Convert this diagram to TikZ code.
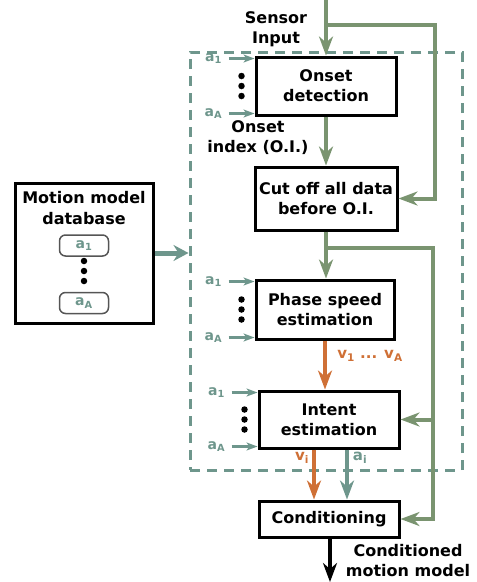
\documentclass[tikz,border=0pt]{standalone}
\usepackage{fontspec}
\setmainfont{DejaVu Sans}
\usetikzlibrary{arrows.meta,positioning,calc}
\definecolor{mGreen} {HTML}{7A9470}
\definecolor{mTeal}  {HTML}{6E968C}
\definecolor{mOrange}{HTML}{CF7036}
\definecolor{mSlot}  {HTML}{555555}

\begin{document}
\begin{tikzpicture}[
  x=1pt, y=-1pt, font=\bfseries\fontsize{16}{20}\selectfont,
  box/.style={draw=black, line width=3pt, align=center, inner sep=1pt},
  sm/.style={font=\bfseries\fontsize{14}{16}\selectfont, inner sep=1pt},
  md/.style={font=\bfseries\fontsize{15}{17}\selectfont, inner sep=1pt},
  slot/.style={draw=mSlot, line width=1.5pt, rounded corners=6pt, minimum width=49pt,
               minimum height=21pt, text=mTeal, sm},
  dot/.style={circle, fill=black, inner sep=0pt, minimum size=6.5pt},
  gar/.style={-{Stealth[length=19pt,width=14pt,inset=6pt]}, draw=mGreen, line width=4pt},
  oar/.style={gar, draw=mOrange},
  kar/.style={gar, draw=black},
  tar/.style={-{Stealth[length=11pt,width=8pt,inset=3pt]}, draw=mTeal, line width=2.5pt},
  dar/.style={-{Stealth[length=15pt,width=16pt,inset=5pt]}, draw=mTeal, line width=5pt},
]
\useasboundingbox (0,0) rectangle (477,582);

% ---------------------------------------------------------------- rahmen
\node[draw=mTeal, line width=3pt, dash pattern=on 10pt off 7pt, minimum width=272pt,
      minimum height=418pt, inner sep=0pt] (frame) at (326,261) {};

% ---------------------------------------------------------------- blocks
\node[box, minimum width=140pt, minimum height=58pt] (od) at (326,86) {Onset\\detection};
\node[box, minimum width=142pt, minimum height=63pt] (cut) at (326,198.5) {Cut off all data\\before O.I.};
\node[box, minimum width=138pt, minimum height=59pt] (ph) at (325,309.5) {Phase speed\\estimation};
\node[box, minimum width=140pt, minimum height=57pt] (ie) at (329,419.5) {Intent\\estimation};
\node[box, minimum width=140pt, minimum height=36pt] (cond) at (329,519) {Conditioning};

% ---------------------------------------------------------------- database
\node[box, minimum width=138pt, minimum height=140pt] (db) at (84,253) {};
\node[anchor=north, align=center, inner sep=0pt, font=\bfseries\fontsize{16}{21}\selectfont]
  (dbt) at ([yshift=-10pt]db.north) {Motion model\\database};
\node[slot] (s1) at (84,245.5) {a\textsubscript{1}};
\node[slot] (sA) at (84,303) {a\textsubscript{A}};
\foreach \y in {261,271,281}
  \node[dot] (db-d\y) at (84,\y) {};

% ---------------------------------------------------------------- texte
\node[align=center] (sens) at (276,29) {Sensor\\Input};
\node[align=center] (oi) at (258,138) {Onset\\index (O.I.)};
\node[md, text=mOrange] (vv) at (370,356) {v\textsubscript{1} ... v\textsubscript{A}};
\node[md, text=mOrange] (vi) at (302,458) {v\textsubscript{i}};
\node[md, text=mTeal] (ai) at (360,458) {a\textsubscript{i}};
\node[align=center] (outl) at (408,561) {Conditioned\\motion model};

% ---------------------------------------------------------------- inputs a_1 ... a_A
\foreach \b in {od,ph,ie} {
  \draw[tar] ([xshift=-26pt,yshift=-3pt]\b.north west) -- ([yshift=-3pt]\b.north west);
  \draw[tar] ([xshift=-26pt,yshift=3pt]\b.south west) -- ([yshift=3pt]\b.south west);
  \node[sm, text=mTeal] (\b-a1) at ([xshift=-41pt,yshift=-3pt]\b.north west) {a\textsubscript{1}};
  \node[sm, text=mTeal] (\b-aA) at ([xshift=-41pt,yshift=3pt]\b.south west) {a\textsubscript{A}};
  \foreach \dy/\n in {10/u,0/m,-10/l}
    \node[dot] (\b-d\n) at ([xshift=-13pt,yshift=\dy pt]\b.west) {};
}

% ---------------------------------------------------------------- pfeile
\coordinate (top) at (od.north |- 0,0);
\coordinate (br1) at (od.north |- 0,25);
\coordinate (rt1) at (435,25);
\coordinate (br2) at (cut.south |- 0,248);
\coordinate (rt2) at (433,248);
\coordinate (bot) at ([xshift=1pt]cond.south |- 0,582);

\draw[gar] (top) -- (od.north);
\draw[gar] (br1) -- (rt1) |- (cut.east);
\draw[gar] (od.south) -- (cut.north);
\draw[gar] (cut.south) -- (cut.south |- ph.north);
\draw[gar] (br2) -- (rt2) |- (cond.east);
\draw[gar] (rt2 |- ie.east) -- (ie.east);
\draw[oar] (ph.south) -- (ph.south |- ie.north);
\draw[oar] ([xshift=-15pt]ie.south) -- ([xshift=-15pt]ie.south |- cond.north);
\draw[gar, draw=mTeal] ([xshift=18pt]ie.south) -- ([xshift=18pt]ie.south |- cond.north);
\draw[kar] ([xshift=1pt]cond.south) -- (bot);
\draw[dar] (db.east) -- (db.east -| frame.west);

\end{tikzpicture}
\end{document}
